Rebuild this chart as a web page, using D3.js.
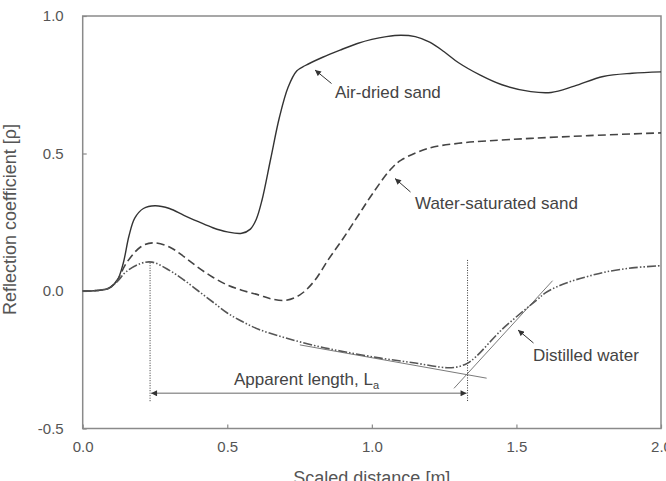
<!DOCTYPE html>
<html>
<head>
<meta charset="utf-8">
<script src="https://cdn.jsdelivr.net/npm/d3@7"></script>
<style>
  body { margin: 0; background: #fff; }
  svg { display: block; font-family: Arial, "Liberation Sans", sans-serif; }
</style>
</head>
<body>
<svg id="chart" width="666" height="481"></svg>
<script>
// scaled distance [m] and reflection coefficient
const airX = [0, 0.05, 0.09, 0.12, 0.14, 0.16, 0.18, 0.21, 0.25, 0.3, 0.35, 0.4, 0.45, 0.5, 0.55, 0.58, 0.6, 0.62, 0.65, 0.68, 0.71, 0.74, 0.77, 0.83, 0.89, 0.95, 1.0, 1.05, 1.1, 1.15, 1.2, 1.25, 1.3, 1.375, 1.45, 1.55, 1.62, 1.7, 1.8, 1.9, 2.0]
const airY = [0, 0.002, 0.01, 0.04, 0.1, 0.2, 0.265, 0.3, 0.31, 0.3, 0.275, 0.252, 0.23, 0.215, 0.21, 0.225, 0.26, 0.33, 0.48, 0.63, 0.74, 0.8, 0.82, 0.85, 0.876, 0.9, 0.915, 0.925, 0.93, 0.925, 0.905, 0.87, 0.83, 0.785, 0.75, 0.725, 0.722, 0.745, 0.78, 0.792, 0.797]

const wetX = [0, 0.05, 0.09, 0.12, 0.15, 0.2, 0.243, 0.3, 0.35, 0.4, 0.45, 0.5, 0.55, 0.61, 0.65, 0.7, 0.75, 0.8, 0.85, 0.9, 0.95, 1.0, 1.063, 1.1, 1.2, 1.3, 1.4, 1.55, 1.75, 2.0]
const wetY = [0, 0.002, 0.01, 0.04, 0.1, 0.16, 0.175, 0.16, 0.125, 0.085, 0.05, 0.022, 0.003, -0.015, -0.028, -0.034, -0.015, 0.035, 0.115, 0.19, 0.27, 0.35, 0.44, 0.475, 0.52, 0.537, 0.546, 0.555, 0.565, 0.575]

const waterX = [0, 0.05, 0.09, 0.12, 0.15, 0.2, 0.24, 0.3, 0.35, 0.4, 0.45, 0.5, 0.55, 0.61, 0.7, 0.8, 0.9, 1.03, 1.15, 1.26, 1.3, 1.33, 1.36, 1.45, 1.57, 1.6, 1.65, 1.7, 1.75, 1.812, 1.9, 2.0]
const waterY = [0, 0.002, 0.01, 0.035, 0.07, 0.1, 0.105, 0.075, 0.04, 0.0, -0.04, -0.08, -0.11, -0.14, -0.17, -0.198, -0.22, -0.244, -0.262, -0.279, -0.275, -0.263, -0.239, -0.14, -0.033, -0.007, 0.02, 0.039, 0.054, 0.07, 0.084, 0.092]

const xTicks = [0, 0.5, 1.0, 1.5, 2.0]
const yTicks = [-0.5, 0, 0.5, 1.0]

// construction lines for the apparent length
const tangentA = [[0.751, -0.196], [1.397, -0.317]]
const tangentB = [[1.284, -0.354], [1.625, 0.0375]]
const startX = 0.233
const endX = 1.331

const svg = d3.select('#chart')
const plotLeft = 82.7
const plotRight = 661
const plotTop = 16
const plotBottom = 428.5

const x = d3.scaleLinear().domain([0, 2]).range([plotLeft, plotRight])
const y = d3.scaleLinear().domain([-0.5, 1]).range([plotBottom, plotTop])
const fmt = d => d3.format('.1f')(d).replace('−', '-')

const defs = svg.append('defs')
defs.append('marker')
  .attr('id', 'head')
  .attr('viewBox', '0 0 10 10')
  .attr('refX', 10)
  .attr('refY', 5)
  .attr('markerUnits', 'userSpaceOnUse')
  .attr('markerWidth', 7)
  .attr('markerHeight', 6)
  .attr('orient', 'auto-start-reverse')
  .append('path')
  .attr('d', 'M0,0L10,5L0,10z')
  .attr('fill', '#333')

// frame
svg.append('rect')
  .attr('x', plotLeft).attr('y', plotTop)
  .attr('width', plotRight - plotLeft).attr('height', plotBottom - plotTop)
  .attr('fill', 'none').attr('stroke', '#8a8a8a').attr('stroke-width', 1.5)

const xAxis = svg.append('g')
  .attr('transform', `translate(0,${plotBottom})`)
  .call(d3.axisBottom(x).tickValues(xTicks).tickFormat(fmt).tickSizeInner(-4).tickSizeOuter(0).tickPadding(13))
const yAxis = svg.append('g')
  .attr('transform', `translate(${plotLeft},0)`)
  .call(d3.axisLeft(y).tickValues(yTicks).tickFormat(fmt).tickSizeInner(-4).tickSizeOuter(0).tickPadding(19))

for (const ax of [xAxis, yAxis]) {
  ax.select('.domain').remove()
  ax.selectAll('line').attr('stroke', '#8a8a8a').attr('stroke-width', 1.2)
  ax.selectAll('text').attr('fill', '#555').attr('font-size', 15).attr('font-family', 'Arial, "Liberation Sans", sans-serif')
}

svg.append('text')
  .attr('x', x(1)).attr('y', 484)
  .attr('text-anchor', 'middle').attr('font-size', 18).attr('fill', '#555')
  .text('Scaled distance [m]')
svg.append('text')
  .attr('transform', `translate(16,${y(0.26)}) rotate(-90)`)
  .attr('text-anchor', 'middle').attr('font-size', 18).attr('fill', '#555')
  .text('Reflection coefficient [ρ]')

const line = d3.line()
  .x(d => x(d[0]))
  .y(d => y(d[1]))
  .curve(d3.curveCatmullRom.alpha(0.5))

// construction lines
svg.append('g').selectAll('path')
  .data([tangentA, tangentB])
  .enter().append('path')
  .attr('d', d3.line().x(d => x(d[0])).y(d => y(d[1])))
  .attr('stroke', '#7a7a7a').attr('stroke-width', 1).attr('fill', 'none')

svg.append('g').selectAll('line')
  .data([[startX, 0.103], [endX, 0.113]])
  .enter().append('line')
  .attr('x1', d => x(d[0])).attr('x2', d => x(d[0]))
  .attr('y1', d => y(d[1])).attr('y2', y(-0.405))
  .attr('stroke', '#333').attr('stroke-width', 1).attr('stroke-dasharray', '1,1.5')

svg.append('line')
  .attr('x1', x(startX) + 1).attr('x2', x(endX) - 1)
  .attr('y1', y(-0.372)).attr('y2', y(-0.372))
  .attr('stroke', '#9a9a9a').attr('stroke-width', 1.6)
  .attr('marker-start', 'url(#head)').attr('marker-end', 'url(#head)')

const label = svg.append('text')
  .attr('x', x(0.774)).attr('y', y(-0.343))
  .attr('text-anchor', 'middle').attr('font-size', 17).attr('fill', '#444')
label.append('tspan').text('Apparent length, L')
label.append('tspan').attr('font-size', 11).attr('dy', 4).text('a')

// curves
const series = [
  { xs: airX, ys: airY, dash: null, color: '#333', width: 1.4 },
  { xs: wetX, ys: wetY, dash: '8,4', color: '#444', width: 1.6 },
  { xs: waterX, ys: waterY, dash: '9,2,1.5,2,1.5,2', color: '#555', width: 1.6 }
]
svg.append('g').selectAll('path')
  .data(series)
  .enter().append('path')
  .attr('d', s => line(s.xs.map((v, i) => [v, s.ys[i]])))
  .attr('fill', 'none')
  .attr('stroke', s => s.color)
  .attr('stroke-width', s => s.width)
  .attr('stroke-dasharray', s => s.dash)

// annotations: arrow tail, arrow tip, text start
const notes = [
  { text: 'Air-dried sand', tail: [331.5, 83.5], tip: [315, 70], at: [335, 98] },
  { text: 'Water-saturated sand', tail: [410.5, 192], tip: [395, 178.5], at: [415, 209] },
  { text: 'Distilled water', tail: [533.5, 343], tip: [518, 330], at: [533, 360.5] }
]
const noteGroup = svg.append('g')
noteGroup.selectAll('line')
  .data(notes)
  .enter().append('line')
  .attr('x1', d => d.tail[0]).attr('y1', d => d.tail[1])
  .attr('x2', d => d.tip[0]).attr('y2', d => d.tip[1])
  .attr('stroke', '#333').attr('stroke-width', 1)
  .attr('marker-end', 'url(#head)')
noteGroup.selectAll('text')
  .data(notes)
  .enter().append('text')
  .attr('x', d => d.at[0]).attr('y', d => d.at[1])
  .attr('font-size', 17).attr('fill', '#444')
  .text(d => d.text)
</script>
</body>
</html>
